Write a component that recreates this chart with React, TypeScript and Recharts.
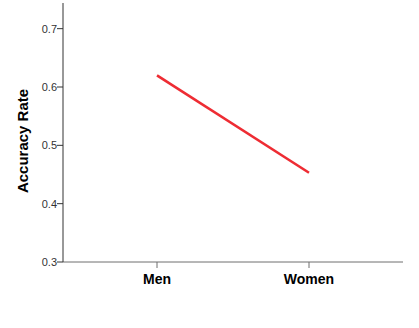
import { LineChart, Line, XAxis, YAxis, Label } from 'recharts';

const groups = ['Men', 'Women'];
const accuracy = [0.62, 0.453];
const yTicks = [0.3, 0.4, 0.5, 0.6, 0.7];

const data = groups.map((g, i) => ({ group: g, accuracy: accuracy[i] }));

const FONT = '"Liberation Sans", Arial, sans-serif';

export default function App() {
  return (
    <div style={{ position: 'absolute', left: 0, top: 0, background: '#fff' }}>
      <LineChart width={419} height={328} data={data} margin={{ top: 3, right: 16, bottom: 36, left: 0 }}>
        <XAxis
          dataKey="group"
          scale="point"
          padding={{ left: 94, right: 94 }}
          height={30}
          tickSize={6}
          tickMargin={6}
          stroke="#6e6e6e"
          tick={{ fill: '#000', fontSize: 14, fontWeight: 700, fontFamily: FONT }}
        />
        <YAxis
          domain={[0.3, 0.744]}
          ticks={yTicks}
          width={63}
          tickSize={6}
          tickMargin={0}
          stroke="#333"
          tickFormatter={(v: number) => v.toFixed(1)}
          tick={{ fill: '#333', fontSize: 11, fontFamily: FONT }}
        >
          <Label
            content={() => (
              <text
                x={28}
                y={141}
                transform="rotate(-90 28 141)"
                textAnchor="middle"
                fontSize={15}
                fontWeight={700}
                fontFamily={FONT}
                fill="#000"
              >
                Accuracy Rate
              </text>
            )}
          />
        </YAxis>
        <Line
          dataKey="accuracy"
          stroke="#ee2c33"
          strokeWidth={2.6}
          dot={false}
          activeDot={false}
          isAnimationActive={false}
        />
      </LineChart>
    </div>
  );
}
